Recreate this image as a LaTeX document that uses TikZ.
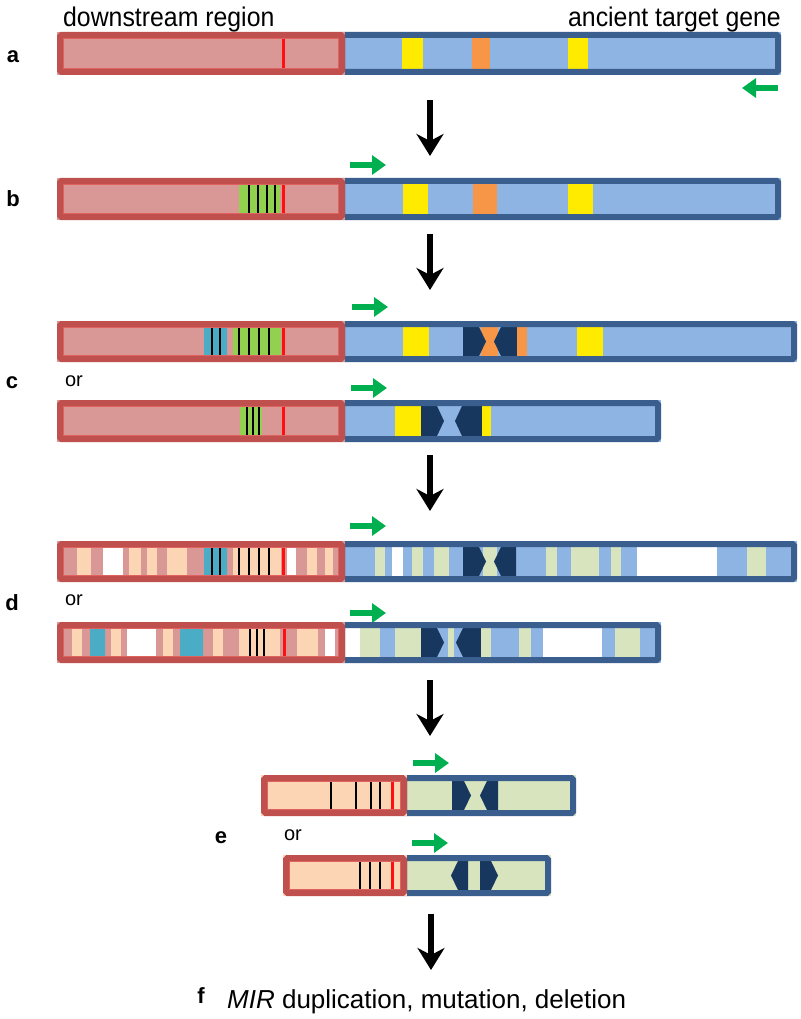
\documentclass[tikz,border=0pt]{standalone}
\usepackage{fontspec}
\setmainfont{Liberation Sans}
\usetikzlibrary{arrows.meta}
\definecolor{rf}{HTML}{D99795}
\definecolor{rb}{HTML}{C0504D}
\definecolor{rin}{HTML}{E0625F}
\definecolor{bf}{HTML}{8EB4E3}
\definecolor{bb}{HTML}{3A5F8F}
\definecolor{yel}{HTML}{FFEB00}
\definecolor{org}{HTML}{F79646}
\definecolor{grn}{HTML}{92D050}
\definecolor{lgr}{HTML}{D7E4BD}
\definecolor{pch}{HTML}{FCD5B4}
\definecolor{tea}{HTML}{4BACC6}
\definecolor{nav}{HTML}{17375E}
\definecolor{ga}{HTML}{00B050}
\definecolor{rln}{HTML}{FF1010}
\tikzset{
  rborder/.style={draw=rb, line width=6pt, rounded corners=1.5pt},
  bborder/.style={draw=bb, line width=6pt, rounded corners=1.5pt},
  bkline/.style={draw=black, line width=1.8pt},
  rdline/.style={draw=rln, line width=3pt},
  garrow/.style={draw=ga, line width=5.5pt, -{Triangle[length=14pt,width=19pt]}},
  barrow/.style={draw=black, line width=6pt, -{Stealth[length=22pt,width=27pt,inset=7pt]}},
  lab/.style={font=\fontsize{22}{24}\selectfont\bfseries},
  ortext/.style={font=\fontsize{20}{22}\selectfont},
  hdtext/.style={font=\fontsize{27}{30}\selectfont, xscale=0.92},
}
\newcommand\st[3]{\fill[#1] (#2,\yT) rectangle (#3,\yB);}
\newcommand\tl[3]{\fill[#1,rounded corners=2pt] (#2,\yT) rectangle (#3,\yB);}
\newcommand\bk[1]{\draw[bkline] (#1,\yT) -- (#1,\yB);}
\newcommand\rd[1]{\draw[rdline] (#1,\yT) -- (#1,\yB);}
\newcommand\ptR[2]{\fill[nav] (#1,\yT) -- ({#2-7},\yT) -- (#2,\yM) -- ({#2-7},\yB) -- (#1,\yB) -- cycle;}
\newcommand\ptL[2]{\fill[nav] (#2,\yT) -- ({#1+7},\yT) -- (#1,\yM) -- ({#1+7},\yB) -- (#2,\yB) -- cycle;}
\newcommand\bluepart[6][bf]{%
  \pgfmathsetmacro\yT{#4+6}\pgfmathsetmacro\yB{#5-6}\pgfmathsetmacro\yM{(#4+#5)/2}%
  \fill[#1] ({#2-6},#4) rectangle (#3,#5);
  #6
  \draw[bborder] ({#2-3},{#4+3}) rectangle ({#3-3},{#5-3});
}
\newcommand\redpart[6][rf]{%
  \pgfmathsetmacro\yT{#4+6}\pgfmathsetmacro\yB{#5-6}\pgfmathsetmacro\yM{(#4+#5)/2}%
  \fill[#1] (#2,#4) rectangle (#3,#5);
  #6
  \draw[rborder] ({#2+3},{#4+3}) rectangle ({#3-3},{#5-3});
  \draw[rin, line width=1pt] ({#2+6.5},{#4+6.5}) rectangle ({#3-6.5},{#5-6.5});
}
\begin{document}
\begin{tikzpicture}[x=1pt,y=-1pt]
\useasboundingbox (0,0) rectangle (800,1019);
\fill[white] (0,0) rectangle (800,1019);

% headers
\node[hdtext, anchor=base west, inner sep=0pt] (hd1) at (63,27) {downstream region};
\node[hdtext, anchor=base east, inner sep=0pt] (hd2) at (781,27) {ancient target gene};

% ---- row a
\bluepart{345}{781}{32}{75}{\st{yel}{402}{423}\st{org}{472}{490}\st{yel}{568}{588}}
\redpart{57}{345}{32}{75}{\rd{283}}
\node[lab] (la) at (13,57) {a};
\coordinate (gaS) at (778,88); \coordinate (gaE) at (742,88);
\draw[garrow] (gaS) -- (gaE);

\coordinate (ar1s) at (430,100); \coordinate (ar1e) at (430,156);
\draw[barrow] (ar1s) -- (ar1e);

% ---- row b
\coordinate (gbS) at (350,165); \coordinate (gbE) at (386,165);
\draw[garrow] (gbS) -- (gbE);
\bluepart{345}{781}{178}{220}{\st{yel}{403}{428}\st{org}{473}{497}\st{yel}{568}{593}}
\redpart{57}{345}{178}{220}{\st{grn}{239}{280}\bk{249}\bk{258}\bk{267}\bk{275}\rd{283}}
\node[lab] (lb) at (13,199) {b};

\coordinate (ar2s) at (430,234); \coordinate (ar2e) at (430,290);
\draw[barrow] (ar2s) -- (ar2e);

% ---- row c
\coordinate (gc1S) at (352,307); \coordinate (gc1E) at (388,307);
\draw[garrow] (gc1S) -- (gc1E);
\bluepart{345}{797}{321}{362}{\st{yel}{403}{429}\st{org}{481}{498}\ptR{463}{486}\ptL{494}{517}\st{org}{517}{527}\st{yel}{577}{603}}
\redpart{57}{345}{321}{362}{\tl{tea}{204}{227}\bk{212}\bk{220}\st{grn}{233}{281}\bk{239}\bk{249}\bk{259}\bk{269}\rd{283}}
\node[lab] (lc) at (12,383) {c};
\node[ortext] (orc) at (74,381) {or};
\coordinate (gc2S) at (351,388); \coordinate (gc2E) at (387,388);
\draw[garrow] (gc2S) -- (gc2E);
\bluepart{345}{661}{400}{442}{\st{yel}{395}{421}\ptR{421}{444}\ptL{455}{482}\st{yel}{482}{491}}
\redpart{57}{345}{400}{442}{\st{grn}{240}{262}\bk{247}\bk{253}\bk{259}\rd{283}}

\coordinate (ar3s) at (430,455); \coordinate (ar3e) at (430,511);
\draw[barrow] (ar3s) -- (ar3e);

% ---- row d
\coordinate (gd1S) at (350,526); \coordinate (gd1E) at (386,526);
\draw[garrow] (gd1S) -- (gd1E);
\bluepart{345}{797}{541}{582}{\st{lgr}{375}{385}\st{white}{392}{403}\st{lgr}{412}{423}\st{lgr}{434}{449}\st{lgr}{483}{497}\ptR{463}{486}\ptL{494}{516}\st{lgr}{546}{557}\st{lgr}{571}{599}\st{lgr}{611}{621}\st{white}{637}{717}\st{lgr}{747}{766}}
\redpart{57}{345}{541}{582}{\st{pch}{77}{91}\st{white}{103}{123}\st{pch}{129}{141}\st{pch}{147}{157}\st{pch}{167}{187}\tl{tea}{204}{227}\bk{212}\bk{220}\st{pch}{233}{281}\bk{239}\bk{249}\bk{259}\bk{269}\rd{283}\st{white}{287}{296}\st{pch}{307}{317}\st{pch}{325}{333}}
\node[lab] (ld) at (12,603) {d};
\node[ortext] (ord) at (74,600) {or};
\coordinate (gd2S) at (350,613); \coordinate (gd2E) at (386,613);
\draw[garrow] (gd2S) -- (gd2E);
\bluepart{345}{661}{622}{663}{\st{white}{345}{360}\st{lgr}{360}{380}\st{lgr}{395}{421}\ptR{421}{444}\st{lgr}{448}{454}\ptL{456}{481}\st{lgr}{481}{491}\st{lgr}{519}{531}\st{white}{543}{602}\st{lgr}{615}{640}}
\redpart{57}{345}{622}{663}{\st{pch}{72}{82}\tl{tea}{90}{105}\st{pch}{111}{121}\st{white}{127}{156}\st{pch}{163}{173}\tl{tea}{180}{203}\st{pch}{213}{223}\st{pch}{239}{280}\bk{250}\bk{257}\bk{264}\rd{284}\st{pch}{297}{318}\st{white}{325}{335}}

\coordinate (ar4s) at (430,680); \coordinate (ar4e) at (430,736);
\draw[barrow] (ar4s) -- (ar4e);

% ---- row e
\coordinate (ge1S) at (413,763); \coordinate (ge1E) at (449,763);
\draw[garrow] (ge1S) -- (ge1E);
\bluepart[lgr]{407}{576}{775}{816}{\ptR{452}{471}\ptL{480}{498}}
\redpart[pch]{261}{407}{775}{816}{\bk{331}\bk{356}\bk{371}\bk{380}\rd{392}}
\node[lab] (le) at (221,838) {e};
\node[ortext] (ore) at (293,835) {or};
\coordinate (ge2S) at (412,843); \coordinate (ge2E) at (448,843);
\draw[garrow] (ge2S) -- (ge2E);
\bluepart[lgr]{407}{551}{855}{896}{\ptL{451}{468}\ptR{480}{498}}
\redpart[pch]{283}{407}{855}{896}{\bk{360}\bk{370}\bk{380}\rd{392}}

\coordinate (ar5s) at (431,914); \coordinate (ar5e) at (431,970);
\draw[barrow] (ar5s) -- (ar5e);

% ---- row f
\node[lab] (lf) at (201,996) {f};
\node[anchor=base west, inner sep=0pt, font=\fontsize{26}{30}\selectfont] (ft) at (227,1008) {\textit{MIR} duplication, mutation, deletion};
\end{tikzpicture}
\end{document}
